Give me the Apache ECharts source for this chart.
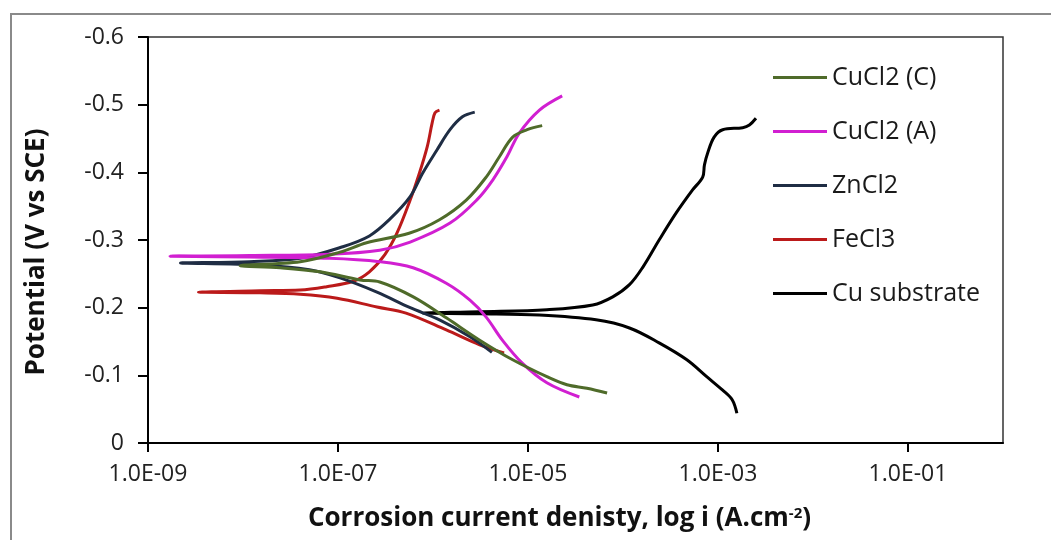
<!DOCTYPE html>
<html>
<head>
<meta charset="utf-8">
<script src="https://cdn.jsdelivr.net/npm/echarts@6/dist/echarts.min.js"></script>
<style>
  html, body { margin: 0; padding: 0; background: #ffffff; }
  #chart { width: 1051px; height: 540px; }
</style>
</head>
<body>
<div id="chart"></div>
<script>
// ---- Data (current density in A/cm2, potential in V vs SCE) ----
const seriesNames = ['CuCl2 (C)', 'CuCl2 (A)', 'ZnCl2', 'FeCl3', 'Cu substrate'];

const cucl2C_i = [1.41e-5, 9.8e-6, 6.9e-6, 5.0e-6, 3.63e-6, 2.24e-6, 1.17e-6, 5.6e-7, 2.0e-7, 1.05e-7, 4.0e-8, 9.3e-9,
                  2.45e-8, 6.5e-8, 1.7e-7, 2.75e-7, 6.2e-7, 1.38e-6, 3.1e-6, 6.9e-6, 1.58e-5, 2.57e-5, 4.17e-5, 6.8e-5];
const cucl2C_E = [-0.469, -0.463, -0.452, -0.423, -0.393, -0.359, -0.330, -0.310, -0.296, -0.282, -0.268, -0.262,
                  -0.259, -0.253, -0.241, -0.238, -0.216, -0.185, -0.152, -0.123, -0.098, -0.086, -0.081, -0.074];

const cucl2A_i = [2.29e-5, 1.32e-5, 8.1e-6, 6.0e-6, 4.27e-6, 2.88e-6, 1.51e-6, 5.75e-7, 2.75e-7, 8.1e-8, 1.17e-8, 1.7e-9,
                  1.17e-8, 8.1e-8, 2.75e-7, 6.17e-7, 1.38e-6, 2.45e-6, 3.63e-6, 5.37e-6, 8.7e-6, 1.58e-5, 3.47e-5];
const cucl2A_E = [-0.513, -0.492, -0.458, -0.423, -0.389, -0.359, -0.325, -0.297, -0.285, -0.279, -0.277, -0.276,
                  -0.275, -0.273, -0.268, -0.259, -0.236, -0.211, -0.186, -0.152, -0.118, -0.089, -0.068];

const zncl2_i = [2.75e-6, 2.04e-6, 1.51e-6, 1.10e-6, 7.8e-7, 5.75e-7, 3.47e-7, 2.14e-7, 1.12e-7, 4.0e-8, 1.17e-8, 2.2e-9,
                 1.51e-8, 5.0e-8, 1.05e-7, 2.57e-7, 5.75e-7, 1.17e-6, 2.45e-6, 4.17e-6];
const zncl2_E = [-0.489, -0.482, -0.463, -0.433, -0.399, -0.364, -0.330, -0.306, -0.290, -0.273, -0.268, -0.266,
                 -0.263, -0.256, -0.244, -0.223, -0.200, -0.182, -0.157, -0.134];

const fecl3_i = [1.17e-6, 1.05e-6, 9.8e-7, 8.7e-7, 7.2e-7, 5.75e-7, 4.17e-7, 3.1e-7, 2.14e-7, 1.45e-7, 7.6e-8, 4.0e-8, 1.51e-8, 3.4e-9,
                 1.51e-8, 4.0e-8, 9.8e-8, 2.57e-7, 5.2e-7, 1.38e-6, 3.1e-6, 5.6e-6];
const fecl3_E = [-0.492, -0.488, -0.473, -0.438, -0.399, -0.359, -0.310, -0.278, -0.253, -0.239, -0.231, -0.226, -0.225, -0.223,
                 -0.222, -0.220, -0.214, -0.201, -0.192, -0.167, -0.145, -0.133];

const cu_i = [2.51e-3, 2.14e-3, 1.82e-3, 1.12e-3, 9.1e-4, 7.8e-4, 7.2e-4, 6.9e-4, 5.4e-4, 3.63e-4, 2.4e-4, 1.62e-4, 1.17e-4, 7.8e-5, 4.8e-5, 1.58e-5, 3.1e-6, 7.8e-7,
              3.1e-6, 1.32e-5, 5.2e-5, 1.17e-4, 2.4e-4, 4.7e-4, 7.6e-4, 1.12e-3, 1.41e-3, 1.58e-3];
const cu_E = [-0.480, -0.470, -0.466, -0.463, -0.452, -0.429, -0.411, -0.393, -0.374, -0.340, -0.300, -0.260, -0.234, -0.216, -0.204, -0.197, -0.194, -0.192,
              -0.191, -0.189, -0.182, -0.170, -0.148, -0.123, -0.098, -0.078, -0.064, -0.044];

const xTickValues = [1e-9, 1e-7, 1e-5, 1e-3, 1e-1];
const xTickLabels = ['1.0E-09', '1.0E-07', '1.0E-05', '1.0E-03', '1.0E-01'];

const colors = ['#4f6b2a', '#d11fd1', '#1f2d44', '#bb1a1a', '#000000'];
const curveI = [cucl2C_i, cucl2A_i, zncl2_i, fecl3_i, cu_i];
const curveE = [cucl2C_E, cucl2A_E, zncl2_E, fecl3_E, cu_E];

// ---- Chart ----
const chart = echarts.init(document.getElementById('chart'), null, { renderer: 'canvas' });
const FONT = 'Open Sans';

function xLabel(v) {
  for (let k = 0; k < xTickValues.length; k++) {
    if (Math.abs(Math.log10(v) - Math.log10(xTickValues[k])) < 1e-6) return xTickLabels[k];
  }
  return '';
}

const series = seriesNames.map((name, s) => ({
  name: name,
  type: 'line',
  data: curveI[s].map((v, k) => [v, curveE[s][k]]),
  symbol: 'none',
  smooth: 0.35,
  lineStyle: { color: colors[s], width: 3 },
  itemStyle: { color: colors[s] },
  z: 10 - s
}));

const option = {
  backgroundColor: '#ffffff',
  animation: false,
  textStyle: { fontFamily: FONT },
  graphic: [{
    type: 'rect',
    shape: { x: 11, y: 14, width: 1060, height: 560 },
    style: { fill: 'none', stroke: '#8a8a8a', lineWidth: 2 },
    silent: true, z: -1
  }],
  grid: {
    left: 148, right: 48, top: 37, bottom: 97,
    show: true, borderColor: '#333333', borderWidth: 1.5,
    outerBoundsMode: 'none'
  },
  legend: {
    orient: 'vertical',
    left: 768, top: 60,
    itemWidth: 54, itemHeight: 14, itemGap: 29,
    icon: 'path://M0,6 L54,6 L54,9 L0,9 Z',
    textStyle: { fontFamily: FONT, fontSize: 25, color: '#1a1a1a' },
    data: seriesNames.map((n, s) => ({ name: n, itemStyle: { color: colors[s] } }))
  },
  xAxis: {
    type: 'log',
    logBase: 10,
    min: 1e-9,
    max: 1,
    name: 'Corrosion current denisty, log i (A.cm{sup|-2})',
    nameLocation: 'middle',
    nameGap: 63,
    nameTextStyle: {
      fontFamily: FONT, fontSize: 26, fontWeight: 'bold', color: '#111',
      padding: [0, 32, 0, 0],
      rich: { sup: { fontFamily: FONT, fontSize: 15, fontWeight: 'bold', color: '#111', verticalAlign: 'top', lineHeight: 14 } }
    },
    axisLine: { show: true, onZero: false, lineStyle: { color: '#000', width: 2 } },
    axisTick: { show: true, inside: false, length: 9, lineStyle: { color: '#000', width: 2 }, customValues: xTickValues },
    axisLabel: { show: true, margin: 20, fontFamily: FONT, fontSize: 23, color: '#222', formatter: xLabel, customValues: xTickValues },
    splitLine: { show: false },
    minorTick: { show: false }
  },
  yAxis: {
    type: 'value',
    min: -0.6,
    max: 0,
    interval: 0.1,
    inverse: true,
    name: 'Potential (V vs SCE)',
    nameLocation: 'middle',
    nameGap: 98,
    nameTextStyle: { fontFamily: FONT, fontSize: 26, fontWeight: 'bold', color: '#111', padding: [0, 24, 0, 0] },
    axisLine: { show: true, onZero: false, lineStyle: { color: '#000', width: 2 } },
    axisTick: { show: true, inside: false, length: 10, lineStyle: { color: '#000', width: 2 } },
    axisLabel: {
      margin: 24, fontFamily: FONT, fontSize: 23, color: '#222',
      formatter: v => (Math.abs(v) < 1e-9 ? '0' : v.toFixed(1))
    },
    splitLine: { show: false }
  },
  series: series
};

chart.setOption(option);
</script>
</body>
</html>
